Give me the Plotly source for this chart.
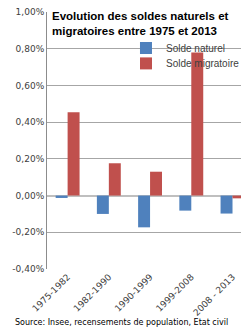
import plotly.graph_objects as go

categories = ["1975-1982", "1982-1990", "1990-1999", "1999-2008", "2008 - 2013"]
solde_naturel = [-0.013, -0.100, -0.173, -0.082, -0.098]
solde_migratoire = [0.454, 0.176, 0.130, 0.780, -0.015]
tick_vals = [-0.4, -0.2, 0.0, 0.2, 0.4, 0.6, 0.8, 1.0]
tick_text = ["-0,40%", "-0,20%", "0,00%", "0,20%", "0,40%", "0,60%", "0,80%", "1,00%"]

fig = go.Figure()
fig.add_trace(go.Bar(x=categories, y=solde_naturel, name="Solde naturel",
                     marker=dict(color="#4f81bd", line=dict(width=0)), legend="legend"))
fig.add_trace(go.Bar(x=categories, y=solde_migratoire, name="Solde migratoire",
                     marker=dict(color="#c0504d", line=dict(width=0)), legend="legend2"))

leg_common = dict(xanchor="left", yanchor="middle", bgcolor="rgba(0,0,0,0)",
                  font=dict(family="Liberation Sans", size=10, color="#404040"),
                  itemwidth=30)

fig.update_layout(
    width=241, height=320,
    margin=dict(l=39, r=0, t=4, b=59),
    paper_bgcolor="white", plot_bgcolor="white",
    barmode="group", bargap=0.42, bargroupgap=0,
    showlegend=True,
    legend=dict(x=0.391, y=0.86, **leg_common),
    legend2=dict(x=0.391, y=0.80, **leg_common),
    font=dict(family="DejaVu Sans", size=9, color="#404040"),
)
fig.update_xaxes(range=[-0.5, 4.4], tickangle=-45, showgrid=False, ticks="",
                 tickfont=dict(family="DejaVu Sans", size=9, color="#404040"),
                 showline=False, zeroline=False, automargin=False)
fig.update_yaxes(range=[-0.4, 1.0], tickvals=tick_vals, ticktext=tick_text,
                 showgrid=True, gridcolor="#a6a6a6", gridwidth=1,
                 zeroline=True, zerolinecolor="#bfbfbf", zerolinewidth=2,
                 showline=True, linecolor="#8c8c8c", linewidth=1, automargin=False,
                 ticklabeloverflow="allow",
                 tickfont=dict(family="DejaVu Sans", size=9, color="#404040"))

fig.add_annotation(xref="paper", yref="paper", x=0.015, y=1.0156, xanchor="left", yanchor="top",
                   text="<b>Evolution des soldes naturels et<br>migratoires entre 1975 et 2013</b>",
                   showarrow=False, align="left",
                   font=dict(family="Liberation Sans", size=11.5, color="black"))
fig.add_annotation(xref="paper", yref="paper", x=0.371, y=-0.21, xanchor="center", yanchor="middle",
                   text="Source: Insee, recensements de population, Etat civil",
                   showarrow=False,
                   font=dict(family="DejaVu Sans", size=8, color="black"))

fig.write_html("out.html")
